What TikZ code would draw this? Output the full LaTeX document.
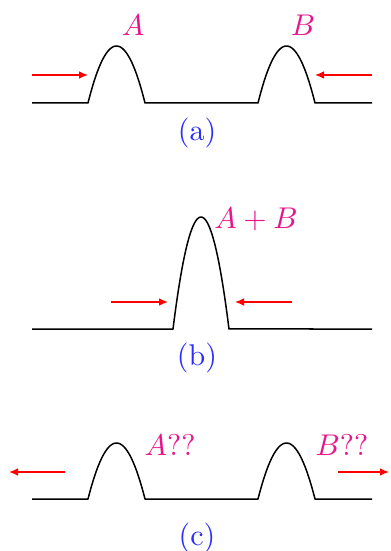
\documentclass[tikz,border=0pt]{standalone}
\usetikzlibrary{arrows.meta}
\definecolor{pulsepink}{RGB}{232,20,140}
\definecolor{capblue}{RGB}{45,45,255}
\tikzset{
  wave/.style     = {black, line width=0.5pt, line join=round},
  push/.style     = {red, line width=0.5pt, -{Latex[length=3pt,width=2.6pt]}},
  pulselbl/.style = {text=pulsepink, inner sep=0pt},
  caplbl/.style   = {text=capblue, inner sep=0pt},
}

\begin{document}
\begin{tikzpicture}[x=0.3333pt, y=-0.3333pt]
  \useasboundingbox (0,0) rectangle (390,551);
  % (a) two pulses moving toward each other
  \draw[wave] (32,103) -- (88,103)
    -- plot[domain=88:145, samples=40] (\x, {103-57*(1-((\x-116.5)/28.5)^2)})
    -- (258,103)
    -- plot[domain=258:315, samples=40] (\x, {103-57*(1-((\x-286.5)/28.5)^2)})
    -- (372,103);
  \node[pulselbl] (lblA) at (133,25) {$A$};
  \node[pulselbl] (lblB) at (303,25) {$B$};
  \coordinate (aL0) at (32,75);  \coordinate (aL1) at (88,75);
  \coordinate (aR0) at (372,75); \coordinate (aR1) at (315,75);
  \draw[push] (aL0) -- (aL1);
  \draw[push] (aR0) -- (aR1);
  \node[caplbl] (capA) at (197,133) {(a)};
  % (b) overlap
  \draw[wave] (32,329) -- (173,329)
    -- plot[domain=173:229, samples=40] (\x, {329-112*(1-((\x-201)/28)^2)})
    -- (372,329);
  \node[pulselbl] (lblAB) at (256,219) {$A+B$};
  \coordinate (bL0) at (111,302); \coordinate (bL1) at (168,302);
  \coordinate (bR0) at (292,302); \coordinate (bR1) at (235,302);
  \draw[push] (bL0) -- (bL1);
  \draw[push] (bR0) -- (bR1);
  \node[caplbl] (capB) at (197,358) {(b)};
  % (c) after passing
  \draw[wave] (32,499) -- (88,499)
    -- plot[domain=88:145, samples=40] (\x, {499-56*(1-((\x-116.5)/28.5)^2)})
    -- (258,499)
    -- plot[domain=258:315, samples=40] (\x, {499-56*(1-((\x-286.5)/28.5)^2)})
    -- (372,499);
  \node[pulselbl] (lblAq) at (170,445) {$A$??};
  \node[pulselbl] (lblBq) at (342,445) {$B$??};
  \coordinate (cL0) at (65,472);  \coordinate (cL1) at (9,472);
  \coordinate (cR0) at (338,472); \coordinate (cR1) at (389,472);
  \draw[push] (cL0) -- (cL1);
  \draw[push] (cR0) -- (cR1);
  \node[caplbl] (capC) at (197,538) {(c)};
\end{tikzpicture}
\end{document}
